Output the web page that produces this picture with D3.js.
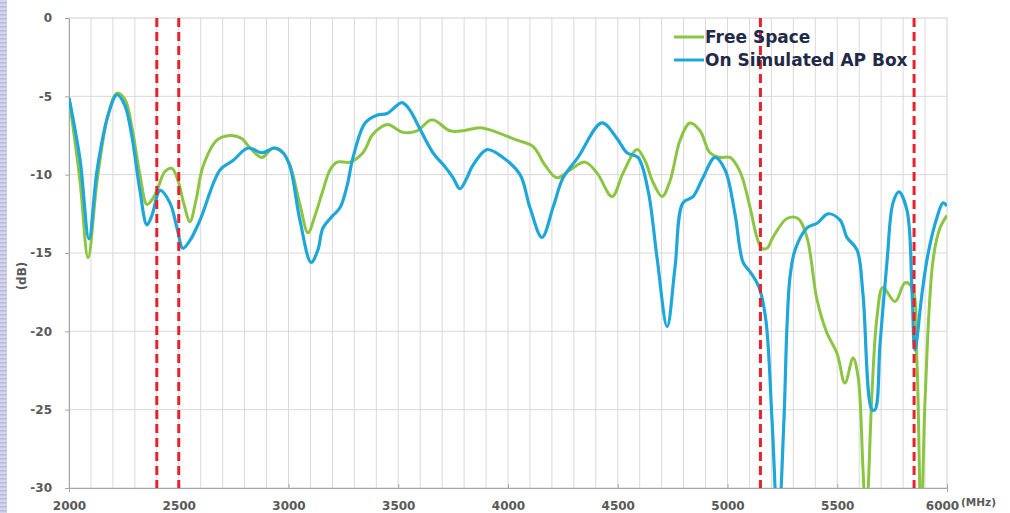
<!DOCTYPE html>
<html><head><meta charset="utf-8">
<script src="https://cdn.jsdelivr.net/npm/d3@7"></script>
<style>html,body{margin:0;padding:0;background:#fff;overflow:hidden}svg{display:block}</style>
</head><body>
<script>
// ---- data ----
const freqTicks = [2000,2500,3000,3500,4000,4500,5000,5500,6000];
const dbTicks = [0,-5,-10,-15,-20,-25,-30];
const markerFreqs = [2400,2500,5150,5850];
const seriesNames = ["Free Space","On Simulated AP Box"];

const freeFreq = [2000,2050,2087,2128,2178,2219,2255,2287,2323,2355,2378,2401,2437,2469,2497,2524,2551,2579,2610,2674,2734,2788,2825,2879,2929,2975,3007,3052,3089,3121,3157,3189,3221,3280,3339,3380,3417,3453,3522,3585,3654,3736,3795,3873,3950,4041,4114,4169,4223,4283,4351,4406,4474,4524,4588,4624,4661,4702,4738,4784,4829,4875,4920,4966,5011,5057,5103,5134,5157,5180,5207,5271,5321,5362,5408,5453,5499,5535,5572,5595,5617,5631,5658,5681,5708,5763,5809,5841,5863,5882,5900,5936,5968,6000];
const freeDb = [-5.1,-10.4,-15.3,-10.4,-6.2,-4.8,-5.2,-7.0,-10.0,-11.9,-11.6,-11.0,-9.8,-9.6,-10.4,-11.9,-13.0,-11.6,-9.5,-7.8,-7.5,-7.7,-8.3,-8.9,-8.3,-8.6,-9.4,-11.9,-13.7,-12.6,-11.0,-9.7,-9.2,-9.2,-8.6,-7.5,-7.0,-6.8,-7.3,-7.2,-6.5,-7.2,-7.2,-7.0,-7.3,-7.8,-8.2,-9.4,-10.2,-9.7,-9.2,-9.9,-11.4,-9.9,-8.4,-9.1,-10.5,-11.4,-10.4,-7.8,-6.7,-7.2,-8.6,-8.9,-8.9,-9.8,-12.1,-14.0,-14.7,-14.7,-14.0,-12.8,-12.8,-14.0,-18.0,-20.1,-21.4,-23.3,-21.7,-22.9,-28.7,-32.4,-24.0,-19.1,-17.2,-18.1,-16.9,-17.2,-21.9,-32.4,-24.4,-15.5,-13.4,-12.6];

const boxFreq = [2000,2050,2091,2128,2178,2219,2255,2287,2323,2355,2378,2415,2460,2492,2519,2551,2597,2688,2747,2816,2879,2939,2975,3007,3052,3103,3134,3157,3203,3235,3267,3294,3349,3403,3449,3517,3554,3585,3658,3713,3750,3781,3813,3836,3904,3977,4055,4100,4155,4205,4251,4319,4428,4497,4542,4592,4638,4679,4725,4761,4797,4843,4888,4943,4989,5034,5071,5103,5144,5175,5203,5230,5257,5271,5285,5308,5362,5408,5458,5513,5544,5590,5617,5658,5672,5695,5727,5754,5781,5818,5841,5854,5886,5913,5955,5982,6000];
const boxDb = [-5.1,-9.0,-14.1,-9.7,-6.2,-4.9,-5.6,-7.6,-11.0,-13.2,-12.6,-11.0,-11.8,-13.4,-14.7,-14.2,-12.9,-9.7,-9.1,-8.3,-8.6,-8.3,-8.6,-9.5,-12.9,-15.6,-14.8,-13.4,-12.6,-12.1,-10.7,-8.9,-6.7,-6.2,-6.1,-5.4,-5.9,-6.7,-8.6,-9.5,-10.2,-10.9,-10.2,-9.5,-8.4,-8.9,-10.0,-12.1,-14.0,-12.1,-10.2,-8.9,-6.7,-7.7,-8.6,-8.9,-11.0,-15.3,-19.7,-15.9,-11.8,-11.4,-10.2,-8.9,-9.7,-12.5,-15.6,-16.2,-17.2,-19.3,-25.7,-32.7,-25.7,-19.7,-16.5,-14.8,-13.4,-13.1,-12.5,-12.9,-14.0,-14.8,-17.6,-25.0,-25.0,-20.8,-15.5,-11.8,-11.1,-12.3,-17.6,-21.2,-17.6,-15.1,-12.7,-11.8,-12.0];

// ---- layout ----
const W = 1010, H = 513;
const M = {left: 69, right: 947, top: 18, bottom: 488};
const FONT = "DejaVu Sans, Verdana, sans-serif";
const svg = d3.select("body").append("svg").attr("width", W).attr("height", H);

// left decorative stripe
const defs = svg.append("defs");
const pat = defs.append("pattern").attr("id","strp").attr("width",7).attr("height",4).attr("patternUnits","userSpaceOnUse");
pat.append("rect").attr("width",7).attr("height",4).attr("fill","#d4d4ec");
pat.append("rect").attr("y",2).attr("width",7).attr("height",1.5).attr("fill","#b9b9dc");
svg.append("rect").attr("x",0).attr("y",0).attr("width",7).attr("height",H).attr("fill","url(#strp)");

const x = d3.scaleLinear().domain([2000,6000]).range([M.left, M.right]);
const y = d3.scaleLinear().domain([-30,0]).range([M.bottom, M.top]);

defs.append("clipPath").attr("id","clip")
  .append("rect").attr("x",M.left).attr("y",M.top).attr("width",M.right-M.left).attr("height",M.bottom-M.top);

// grid
const g = svg.append("g");
g.selectAll("line.vg").data(d3.range(2100,6000,100)).join("line")
  .attr("x1",d=>x(d)).attr("x2",d=>x(d)).attr("y1",M.top).attr("y2",M.bottom)
  .attr("stroke","#d9d9d9").attr("stroke-width",1);
g.selectAll("line.hg").data(dbTicks.filter(d=>d>-30 && d<0)).join("line")
  .attr("x1",M.left).attr("x2",M.right).attr("y1",d=>y(d)).attr("y2",d=>y(d))
  .attr("stroke","#d9d9d9").attr("stroke-width",1);
svg.append("rect").attr("x",M.left).attr("y",M.top).attr("width",M.right-M.left).attr("height",M.bottom-M.top)
  .attr("fill","none").attr("stroke","#d0d0d0");

// axes
const xAxis = d3.axisBottom(x).tickValues(freqTicks).tickSize(4).tickFormat(d=>d);
const xa = svg.append("g").attr("transform",`translate(0,${M.bottom})`).call(xAxis);
xa.select(".domain").attr("stroke","#a6a6a6");
xa.selectAll(".tick line").attr("stroke","#a6a6a6").attr("y2",-4);
xa.selectAll(".tick text").attr("y",22).attr("dy",null).attr("fill","#595959")
  .attr("dx",d=>d===6000?-5:0)
  .style("font-family",FONT).style("font-weight","bold").style("font-size","12px");

const yAxis = d3.axisLeft(y).tickValues(dbTicks).tickSize(4).tickFormat(d=>d);
const ya = svg.append("g").attr("transform",`translate(${M.left},0)`).call(yAxis);
ya.select(".domain").attr("stroke","#a6a6a6");
ya.selectAll(".tick line").attr("stroke","#a6a6a6");
ya.selectAll(".tick text").attr("x",-17).attr("fill","#595959")
  .style("font-family",FONT).style("font-weight","bold").style("font-size","12px");

svg.append("text").attr("transform",`translate(26,276) rotate(-90)`)
  .attr("text-anchor","middle").attr("fill","#595959")
  .style("font-family",FONT).style("font-weight","bold").style("font-size","12px")
  .text("(dB)");
svg.append("text").attr("x",x(6000)+14).attr("y",M.bottom+18)
  .attr("fill","#595959")
  .style("font-family",FONT).style("font-weight","bold").style("font-size","10.5px")
  .text("(MHz)");

// lines
const line = d3.line().x(d=>x(d[0])).y(d=>y(d[1])).curve(d3.curveCatmullRom.alpha(0.5));
const plot = svg.append("g").attr("clip-path","url(#clip)");
plot.append("path").datum(d3.zip(freeFreq, freeDb)).attr("d",line)
  .attr("fill","none").attr("stroke","#8cc542").attr("stroke-width",3).attr("stroke-linejoin","round");
plot.append("path").datum(d3.zip(boxFreq, boxDb)).attr("d",line)
  .attr("fill","none").attr("stroke","#1fa6da").attr("stroke-width",3.2).attr("stroke-linejoin","round");

// marker lines
plot.selectAll("line.mk").data(markerFreqs).join("line")
  .attr("x1",d=>x(d)).attr("x2",d=>x(d)).attr("y1",M.top).attr("y2",M.bottom)
  .attr("stroke","#e8212b").attr("stroke-width",3).attr("stroke-dasharray","9,5");

// legend
const colors = ["#8cc542","#1fa6da"];
const lg = svg.append("g");
seriesNames.forEach((n,i)=>{
  const yy = 37 + i*23;
  lg.append("line").attr("x1",674).attr("x2",704).attr("y1",yy).attr("y2",yy)
    .attr("stroke",colors[i]).attr("stroke-width",3);
  lg.append("text").attr("x",705).attr("y",yy+6).attr("fill","#1f2a48")
    .style("font-family",FONT).style("font-weight","bold").style("font-size","17px")
    .text(n);
});
</script>
</body></html>
